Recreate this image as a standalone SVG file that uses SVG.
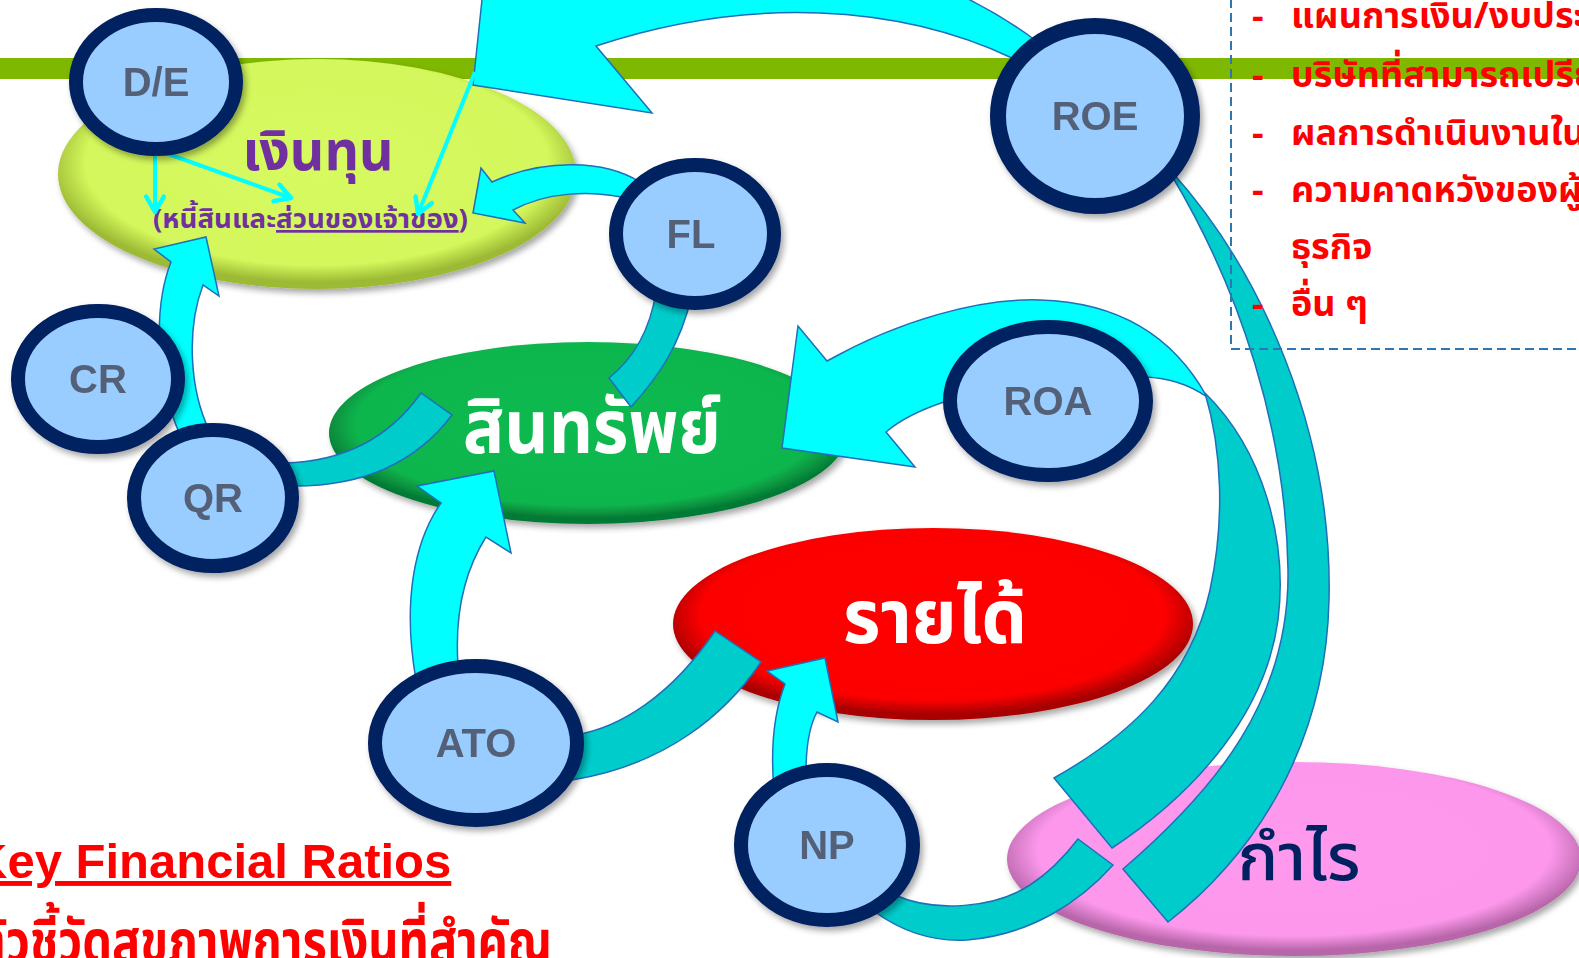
<svg xmlns="http://www.w3.org/2000/svg" width="1579" height="958" viewBox="0 0 1579 958">
<style>
.th{font-family:"Noto Sans Thai","Noto Sans Thai UI","Loma","Garuda","Tlwg Typo","Tahoma","DejaVu Sans",sans-serif}
.node circle,.node ellipse.ring{fill:#99CCFF;stroke:#002060;stroke-width:14}
.lbl{font-family:"Liberation Sans",Arial,sans-serif;font-weight:bold;font-size:40px;fill:#536178;text-anchor:middle}
.cy{fill:#00FFFF;stroke:#1F6FB8;stroke-width:1.5;stroke-linejoin:miter}
.tl{fill:#00CCCC;stroke:#1F6FB8;stroke-width:1.5}
.thin{stroke:#00FFFF;stroke-width:4;fill:none;marker-end:url(#vh)}
.red{fill:#FF0000;font-weight:bold;font-size:36px}
</style>
<defs>
<filter id="sh" x="-20%" y="-20%" width="140%" height="140%"><feDropShadow dx="3" dy="4" stdDeviation="3" flood-color="#000" flood-opacity="0.35"/></filter>
<radialGradient id="gY" cx="50%" cy="45%" r="52%"><stop offset="0" stop-color="#D6FA60"/><stop offset="0.86" stop-color="#D3F75B"/><stop offset="1" stop-color="#9DBA35"/></radialGradient>
<radialGradient id="gG" cx="50%" cy="45%" r="52%"><stop offset="0" stop-color="#0BBA50"/><stop offset="0.86" stop-color="#09B64E"/><stop offset="1" stop-color="#067A34"/></radialGradient>
<radialGradient id="gR" cx="50%" cy="45%" r="52%"><stop offset="0" stop-color="#FF0000"/><stop offset="0.86" stop-color="#FC0000"/><stop offset="1" stop-color="#A80000"/></radialGradient>
<radialGradient id="gP" cx="50%" cy="45%" r="52%"><stop offset="0" stop-color="#FF99EE"/><stop offset="0.86" stop-color="#FC97EB"/><stop offset="1" stop-color="#B866AA"/></radialGradient>
<marker id="vh" viewBox="0 0 20 20" refX="17" refY="10" markerWidth="22" markerHeight="22" markerUnits="userSpaceOnUse" orient="auto"><path d="M3,2 L17,10 L3,18" fill="none" stroke="#00FFFF" stroke-width="4" stroke-linecap="round" stroke-linejoin="round"/></marker>
</defs>
<rect width="1579" height="958" fill="#FFFFFF"/>
<rect id="bar" x="0" y="58" width="1579" height="21" fill="#7FB800"/>

<g id="capital">
<ellipse cx="317" cy="174" rx="259" ry="115" fill="url(#gY)" filter="url(#sh)"/>
<text class="th" x="318" y="170" font-size="55" font-weight="bold" fill="#7030A0" text-anchor="middle" textLength="151" lengthAdjust="spacingAndGlyphs">เงินทุน</text>
<text class="th" x="153" y="228" font-size="27" font-weight="bold" fill="#7030A0" textLength="315" lengthAdjust="spacingAndGlyphs">(หนี้สินและ<tspan text-decoration="underline">ส่วนของเจ้าของ</tspan>)</text>
</g>
<g id="assets">
<ellipse cx="588" cy="433" rx="259" ry="91" fill="url(#gG)" filter="url(#sh)"/>
<text class="th" x="592" y="453" font-size="74" font-weight="bold" fill="#FFFFFF" text-anchor="middle" textLength="258" lengthAdjust="spacingAndGlyphs">สินทรัพย์</text>
</g>
<g id="revenue">
<ellipse cx="933" cy="624" rx="260" ry="96" fill="url(#gR)" filter="url(#sh)"/>
<text class="th" x="935" y="643" font-size="74" font-weight="bold" fill="#FFFFFF" text-anchor="middle" textLength="184" lengthAdjust="spacingAndGlyphs">รายได้</text>
</g>
<g id="profit">
<ellipse cx="1294" cy="859" rx="287" ry="97" fill="url(#gP)" filter="url(#sh)"/>
<text class="th" x="1299" y="880" font-size="66" font-weight="500" fill="#002060" text-anchor="middle" textLength="123" lengthAdjust="spacingAndGlyphs">กำไร</text>
</g>

<g id="connectors">
<path class="cy" d="M1012,58 C900,5 750,-5 596,46 L652,113 L473,85 L492,-95 L560,-60 C700,-80 900,-60 1035,40 Z"/>
<path class="tl" d="M1172,172 C1260,270 1333,430 1329,600 C1326,740 1260,850 1168,922 L1123,869 C1215,790 1290,700 1288,570 C1286,430 1240,290 1172,176 Z"/>
<path class="cy" d="M827,361 C900,320 980,298 1040,300 C1110,302 1170,330 1207,397 C1190,385 1170,378 1145,377 L1040,380 L944,402 C920,410 900,420 886,432 L915,467 L782,448 L798,326 Z"/>
<path class="tl" d="M1205,393 C1263,450 1288,540 1278,620 C1266,710 1200,790 1112,848 L1054,778 C1130,735 1190,680 1210,590 C1225,520 1222,450 1205,393 Z"/>
<path class="tl" d="M656,292 C650,330 634,358 609,378 L631,407 C660,375 680,345 692,295 Z"/>
<path class="cy" d="M640,182 C605,160 545,158 492,182 L481,168 L473,213 L525,223 L513,210 C545,193 590,188 635,200 Z"/>
<path class="tl" d="M284,463 C330,462 382,448 421,393 L452,415 C412,468 355,487 290,486 Z"/>
<path class="cy" d="M209,430 C190,390 186,330 203,285 L219,296 L206,237 L154,249 L171,262 C156,300 152,370 180,435 Z"/>
<path class="tl" d="M575,735 C620,728 672,695 715,631 L761,662 C725,715 665,765 572,780 Z"/>
<path class="cy" d="M458,665 C455,620 462,575 486,537 L511,553 L494,471 L417,486 L441,503 C415,540 402,600 416,680 Z"/>
<path class="tl" d="M895,895 C935,913 995,908 1030,885 C1050,872 1065,856 1078,839 L1113,865 C1080,902 1030,935 967,940 C930,942 900,930 875,912 Z"/>
<path class="cy" d="M806,772 C806,745 810,725 817,712 L838,722 L825,658 L767,671 L785,684 C775,710 770,745 774,790 Z"/>
<line class="thin" x1="155" y1="150" x2="155" y2="212"/>
<line class="thin" x1="157" y1="150" x2="291" y2="198"/>
<line class="thin" x1="475" y1="72" x2="418" y2="214"/>
</g>

<g id="DE" class="node" filter="url(#sh)"><ellipse class="ring" cx="156" cy="82" rx="80" ry="67"/><text class="lbl" x="156" y="96">D/E</text></g>
<g id="FL" class="node" filter="url(#sh)"><ellipse class="ring" cx="695" cy="234" rx="79" ry="69"/><text class="lbl" x="691" y="248">FL</text></g>
<g id="ROE" class="node" filter="url(#sh)"><ellipse class="ring" cx="1095" cy="116" rx="97" ry="90" style="stroke-width:16"/><text class="lbl" x="1095" y="130">ROE</text></g>
<g id="CR" class="node" filter="url(#sh)"><ellipse class="ring" cx="98" cy="379" rx="80" ry="68"/><text class="lbl" x="98" y="393">CR</text></g>
<g id="QR" class="node" filter="url(#sh)"><ellipse class="ring" cx="213" cy="498" rx="79" ry="68"/><text class="lbl" x="213" y="512">QR</text></g>
<g id="ROA" class="node" filter="url(#sh)"><ellipse class="ring" cx="1048" cy="401" rx="98" ry="74"/><text class="lbl" x="1048" y="415">ROA</text></g>
<g id="ATO" class="node" filter="url(#sh)"><ellipse class="ring" cx="476" cy="743" rx="101" ry="77"/><text class="lbl" x="476" y="757">ATO</text></g>
<g id="NP" class="node" filter="url(#sh)"><ellipse class="ring" cx="827" cy="845" rx="86" ry="75"/><text class="lbl" x="827" y="859">NP</text></g>

<g id="factors">
<rect x="1231" y="-10" width="420" height="359" fill="none" stroke="#2E75B6" stroke-width="2" stroke-dasharray="9 5"/>
<g class="th red">
<text x="1252" y="28">-</text><text x="1291" y="28">แผนการเงิน/งบประมาณ</text>
<text x="1252" y="87">-</text><text x="1291" y="87">บริษัทที่สามารถเปรียบเทียบได้</text>
<text x="1252" y="145">-</text><text x="1291" y="145">ผลการดำเนินงานในอดีต</text>
<text x="1252" y="202">-</text><text x="1291" y="202">ความคาดหวังของผู้ประกอบ</text>
<text x="1291" y="259">ธุรกิจ</text>
<text x="1252" y="316">-</text><text x="1291" y="316">อื่น ๆ</text>
</g>
</g>

<g id="title">
<text x="-28" y="878" font-family="Liberation Sans, Arial, sans-serif" font-weight="bold" font-size="49" fill="#FF0000" text-decoration="underline">Key Financial Ratios</text>
<text class="th" x="-25" y="962" font-size="58" font-weight="bold" fill="#FF0000" textLength="577" lengthAdjust="spacingAndGlyphs">ตัวชี้วัดสุขภาพการเงินที่สำคัญ</text>
</g>
</svg>
